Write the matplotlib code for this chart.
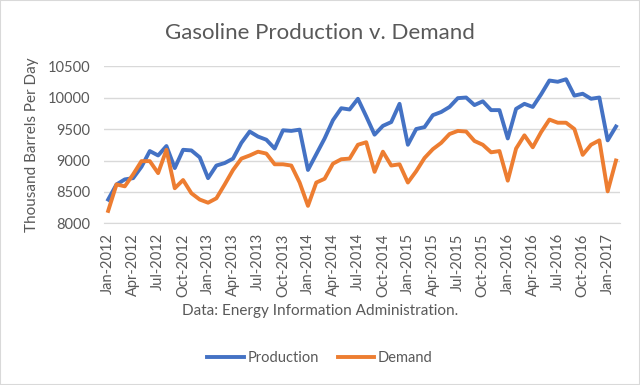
import numpy as np
import pandas as pd
import matplotlib
matplotlib.use('Agg')
import matplotlib.pyplot as plt
from matplotlib.patches import Rectangle

plt.rcParams['font.family'] = ['Lato', 'DejaVu Sans']

# monthly, Jan-2012 .. Feb-2017
months = pd.date_range('2012-01-01', '2017-02-01', freq='MS').strftime('%b-%Y').tolist()

production = [8380, 8620, 8700, 8720, 8900, 9150, 9080, 9230, 8880, 9170, 9160, 9050,
              8720, 8920, 8960, 9030, 9280, 9460, 9380, 9330, 9190, 9480, 9470, 9490,
              8850, 9100, 9350, 9640, 9830, 9810, 9980, 9700, 9410, 9550, 9610, 9900,
              9250, 9500, 9530, 9720, 9770, 9850, 9990, 10000, 9880, 9940, 9800, 9800,
              9350, 9820, 9900, 9850, 10050, 10270, 10250, 10290, 10030, 10060, 9980, 10000,
              9320, 9540]

demand = [8200, 8620, 8590, 8780, 8990, 8990, 8800, 9170, 8560, 8690, 8480, 8380,
          8330, 8400, 8620, 8850, 9030, 9080, 9140, 9110, 8940, 8940, 8920, 8650,
          8280, 8650, 8710, 8950, 9020, 9030, 9250, 9290, 8820, 9140, 8920, 8940,
          8650, 8830, 9040, 9180, 9280, 9420, 9470, 9460, 9310, 9250, 9130, 9150,
          8680, 9190, 9400, 9210, 9450, 9650, 9600, 9600, 9500, 9090, 9250, 9320,
          8510, 9000]

grey = '#595959'
x = np.arange(len(months))

fig = plt.figure(figsize=(6.4, 3.85), dpi=100)
ax = fig.add_axes([0.1625, 0.4195, 0.8065, 0.409])

ax.plot(x, production, color='#4472C4', lw=2.8, label='Production', solid_joinstyle='round')
ax.plot(x, demand, color='#ED7D31', lw=2.8, label='Demand', solid_joinstyle='round')

ax.set_xlim(-0.5, len(months) - 0.5)
ax.set_ylim(8000, 10500)
ax.set_yticks(np.arange(8000, 10501, 500))
ax.set_xticks(x[::3])
ax.set_xticklabels(months[::3], rotation=90)
ax.tick_params(axis='both', length=0, colors=grey, labelsize=10.5)
ax.tick_params(axis='x', pad=7)
ax.tick_params(axis='y', pad=10)
ax.grid(axis='y', color='#D9D9D9', lw=1)
ax.set_axisbelow(True)
for s in ['left', 'right', 'top']:
    ax.spines[s].set_visible(False)
ax.spines['bottom'].set_color('#D9D9D9')

ax.set_ylabel('Thousand Barrels Per Day', color=grey, fontsize=11)
ax.yaxis.set_label_coords(-0.125, 0.5)
fig.text(0.5, 1 - 311 / 385, 'Data: Energy Information Administration.',
         ha='center', va='center', color=grey, fontsize=11)
fig.text(0.5, 1 - 33 / 385, 'Gasoline Production v. Demand',
         ha='center', va='center', color=grey, fontsize=16)

fig.legend(loc='center', bbox_to_anchor=(0.5, 1 - 358 / 385), ncol=2, frameon=False,
           fontsize=10.5, handlelength=2.5, handletextpad=0.25, columnspacing=1.3,
           labelcolor=grey)

fig.patches.append(Rectangle((0, 0), 1, 1, transform=fig.transFigure, fill=False,
                             edgecolor='#D9D9D9', lw=1.5))

fig.savefig('out.png', dpi=100)
